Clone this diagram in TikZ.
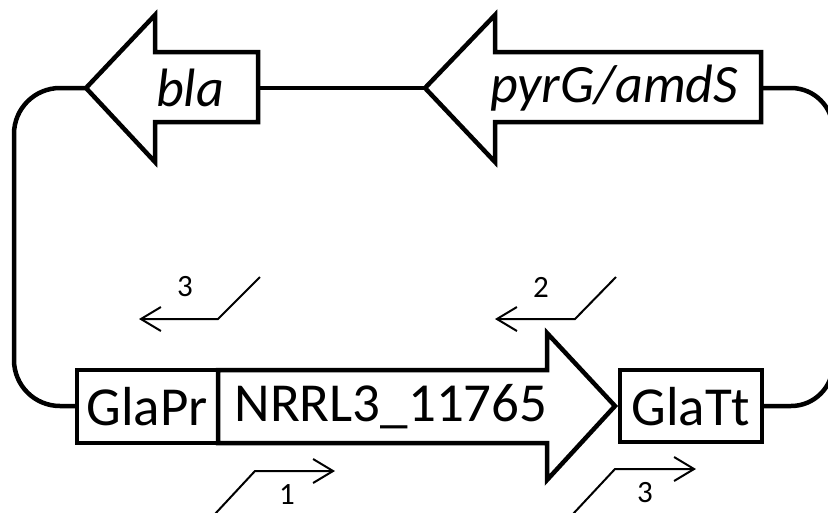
\documentclass[tikz,border=0pt]{standalone}
\usepackage{fontspec}
\setmainfont{Carlito}
\usetikzlibrary{arrows.meta}
\begin{document}
\begin{tikzpicture}[x=1pt,y=-1pt,
  part/.style={draw=black,line width=4.5pt,miter limit=10,line join=miter,fill=white},
  link/.style={draw=black,line width=4.5pt},
  big/.style={font=\fontsize{55}{60}\selectfont,inner sep=0pt},
  bigit/.style={font=\fontsize{54}{60}\selectfont\itshape,inner sep=0pt},
  primer/.style={draw=black,line width=2pt,-{Straight Barb[length=20pt,width=24pt,line width=2pt]}},
  plabel/.style={font=\fontsize{31}{32}\selectfont,inner sep=0pt}]
\useasboundingbox (0,0) rectangle (828,512);
% named anchor points
\coordinate (blatip) at (86,88);
\coordinate (blaend) at (258,88);
\coordinate (pyrtip) at (425,88);
\coordinate (pyrend) at (761,88);
\coordinate (prleft) at (77,406);
\coordinate (ttright) at (762,406);
% connectors
\draw[link] (blaend) -- (pyrtip);
\draw[link,rounded corners=46pt] (blatip) -- (14,88) -- (14,406) -- (prleft);
\draw[link,rounded corners=42pt] (pyrend) -- (833,88) -- (833,406) -- (ttright);
% bla arrow
\draw[part] (blatip) -- (155,15) -- (155,52) -- (258,52) -- (258,122) -- (155,122) -- (155,162) -- cycle;
% pyrG/amdS arrow
\draw[part] (pyrtip) -- (495,15) -- (495,52) -- (761,52) -- (761,122) -- (495,122) -- (495,162) -- cycle;
% GlaPr box
\draw[part] (77,370) rectangle (218,443);
% NRRL3 arrow
\draw[part] (218,370) -- (547,370) -- (547,333) -- (615,406) -- (547,480) -- (547,443) -- (218,443) -- cycle;
% GlaTt box
\draw[part] (620,370) rectangle (762,442);
% texts
\node[bigit] (bla) at (190,88) {bla};
\node[bigit] (pyr) at (614,88) {pyrG/amdS};
\node[big] (glapr) at (147,407) {GlaPr};
\node[big] (nrrl) at (391,407) {NRRL3\_11765};
\node[big] (glatt) at (691,407) {GlaTt};
% primers
\coordinate (p3a) at (260,277); \coordinate (p3b) at (218,319); \coordinate (p3c) at (139,319);
\draw[primer] (p3a) -- (p3b) -- (p3c);
\node[plabel] (l3a) at (185,287) {3};
\coordinate (p2a) at (616,277); \coordinate (p2b) at (575,319); \coordinate (p2c) at (495,319);
\draw[primer] (p2a) -- (p2b) -- (p2c);
\node[plabel] (l2) at (541,287) {2};
\coordinate (p1a) at (215,514); \coordinate (p1b) at (255,471); \coordinate (p1c) at (335,471);
\draw[primer] (p1a) -- (p1b) -- (p1c);
\node[plabel] (l1) at (287,495) {1};
\coordinate (p4a) at (573,514); \coordinate (p4b) at (615,469); \coordinate (p4c) at (696,469);
\draw[primer] (p4a) -- (p4b) -- (p4c);
\node[plabel] (l3b) at (645,493) {3};
\end{tikzpicture}
\end{document}
